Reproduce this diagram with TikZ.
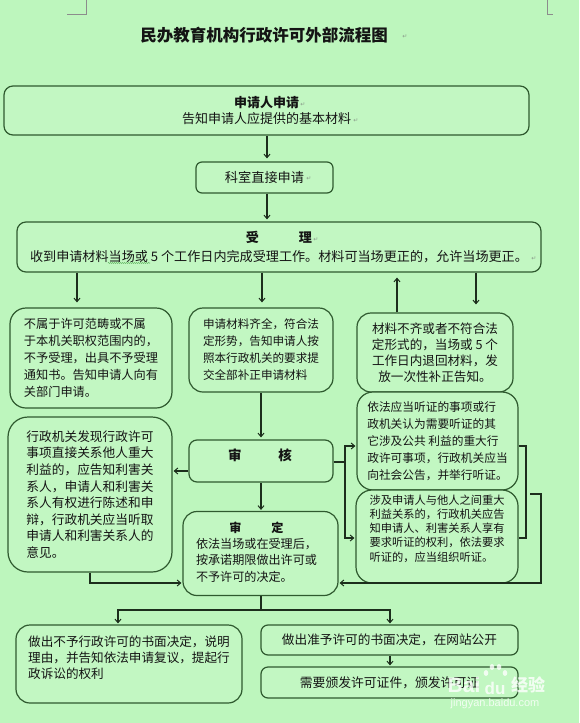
\documentclass[tikz,border=0pt]{standalone}
\usepackage{fontspec}
\setmainfont{Noto Sans CJK SC}
\newfontfamily\djv{DejaVu Sans}
\newfontfamily\lsans{Liberation Sans}
\usetikzlibrary{arrows.meta,decorations.pathmorphing}
\definecolor{bg}{HTML}{BDF6BD}
\definecolor{boxfill}{HTML}{C2F7C2}
\definecolor{boxline}{HTML}{2F5A2F}
\definecolor{lineclr}{HTML}{1C2E1C}
\definecolor{txt}{HTML}{141414}
\definecolor{pmark}{HTML}{8A9A8A}
\newcommand{\myfs}[2]{\fontsize{#1}{#2}\selectfont}
\tikzset{
  box/.style={draw=boxline, fill=boxfill, line width=1.2pt, inner sep=0pt, text=txt, align=center},
  tx/.style={inner sep=0pt, text=txt},
  arr/.style={draw=lineclr, line width=1.1pt, -{Straight Barb[length=3.5pt,width=6pt,line width=1pt]}, shorten >=1pt},
  ln/.style={draw=lineclr, line width=1.1pt},
  pm/.style={inner sep=0pt, text=pmark, font=\djv\myfs{6}{6}},
  wm/.style={inner sep=0pt, text=white, opacity=0.8},
  cmark/.style={draw=black!45, line width=0.6pt},
}
\begin{document}
\begin{tikzpicture}[x=1pt,y=-1pt]
\path[use as bounding box, fill=bg] (0,0) rectangle (579,723);
% page corner marks
\draw[cmark] (67,14) -- (86,14) -- (86,0);
\draw[cmark] (547,0) -- (547,14) -- (553,14);
% title
\node[tx, font=\bfseries\myfs{16.5}{20}] (title) at (264,35) {民办教育机构行政许可外部流程图};
% boxes
\node[box, rounded corners=9pt, minimum width=525pt, minimum height=49pt, font=\myfs{13}{16}] (apply) at (266.5,110.5) {{\bfseries 申请人申请}\\告知申请人应提供的基本材料};
\node[box, rounded corners=6pt, minimum width=137pt, minimum height=31pt, font=\myfs{13.2}{16}] (keshi) at (264.5,177.5) {科室直接申请};
\node[box, rounded corners=9pt, minimum width=524pt, minimum height=50pt, font=\myfs{13.1}{19}] (shouli) at (279,247) {{\bfseries 受\hspace{40pt}理}\\收到申请材料当场或 5 个工作日内完成受理工作。材料可当场更正的，允许当场更正。};
\node[box, rounded corners=16pt, minimum width=162pt, minimum height=100pt, align=left, font=\myfs{12.2}{17}] (bushu) at (91,358) {不属于许可范畴或不属\\于本机关职权范围内的，\\不予受理，出具不予受理\\通知书。告知申请人向有\\关部门申请。};
\node[box, rounded corners=14pt, minimum width=144pt, minimum height=84pt, align=left, font=\myfs{11.6}{17}] (qiquan) at (261,350) {申请材料齐全，符合法\\定形势，告知申请人按\\照本行政机关的要求提\\交全部补正申请材料};
\node[box, rounded corners=14pt, minimum width=156pt, minimum height=79pt, font=\myfs{12.6}{16}] (buqi) at (435,352.5) {材料不齐或者不符合法\\定形式的，当场或 5 个\\工作日内退回材料，发\\放一次性补正告知。};
\node[box, rounded corners=16pt, minimum width=161pt, minimum height=98pt, align=left, font=\myfs{11.7}{17}] (tingzheng) at (437.5,441) {依法应当听证的事项或行\\政机关认为需要听证的其\\它涉及公共 利益的重大行\\政许可事项，行政机关应当\\向社会公告，并举行听证。};
\node[box, rounded corners=16pt, minimum width=162pt, minimum height=93pt] (sheji) at (437,536.5) {};
\node[tx, align=left, font=\myfs{11.25}{14.2}] (shejitext) at (437,528.5) {涉及申请人与他人之间重大\\利益关系的，行政机关应告\\知申请人、利害关系人享有\\要求听证的权利，依法要求\\听证的，应当组织听证。};
\node[box, rounded corners=8pt, minimum width=144pt, minimum height=42pt] (shenhe) at (261,461) {};
\node[tx, font=\bfseries\myfs{13.5}{16}] (shenhetext) at (260,455) {审\hspace{37pt}核};
\node[box, rounded corners=20pt, minimum width=164pt, minimum height=155pt, align=left, font=\myfs{12.7}{16.6}] (left2) at (90,494.5) {行政机关发现行政许可\\事项直接关系他人重大\\利益的，应告知利害关\\系人，申请人和利害关\\系人有权进行陈述和申\\辩，行政机关应当听取\\申请人和利害关系人的\\意见。};
\node[box, rounded corners=14pt, minimum width=155pt, minimum height=84pt] (shending) at (260.5,553.5) {};
\node[tx, align=left, font=\myfs{12.1}{16.2}] (shendingtext) at (256.5,552) {\makebox[121pt]{\bfseries 审\hspace{30pt}定}\\依法当场或在受理后，\\按承诺期限做出许可或\\不予许可的决定。};
\node[box, rounded corners=14pt, minimum width=226pt, minimum height=78pt] (bad) at (129,664) {};
\node[tx, align=left, font=\myfs{12.6}{16}] (badtext) at (129,658) {做出不予行政许可的书面决定，说明\\理由，并告知依法申请复议，提起行\\政诉讼的权利};
\node[box, rounded corners=7pt, minimum width=257pt, minimum height=30pt, font=\myfs{12.65}{16}] (good1) at (389.5,640) {做出准予许可的书面决定，在网站公开};
\node[box, rounded corners=7pt, minimum width=257pt, minimum height=31pt, font=\myfs{12.8}{16}] (good2) at (389.5,682.5) {需要颁发许可证件，颁发许可证};
% paragraph marks
\node[pm] (pm1) at (405,37) {↵};
\node[pm] (pm2) at (303,105) {↵};
\node[pm] (pm3) at (356,121) {↵};
\node[pm] (pm4) at (309,179) {↵};
\node[pm] (pm5) at (316,240) {↵};
\node[pm] (pm6) at (534,259) {↵};
% grammar underline
\draw[draw=green!45!black, opacity=.6, line width=.5pt, decorate, decoration={snake,amplitude=.5pt,segment length=2pt}] (108,263) -- (150,263);
% connectors
\draw[arr, shorten >=3pt] (267,0 |- apply.south) -- (267,0 |- keshi.north);
\draw[arr, shorten >=2pt] (267,0 |- keshi.south) -- (267,0 |- shouli.north);
\draw[arr, shorten >=5pt] (77,0 |- shouli.south) -- (77,0 |- bushu.north);
\draw[arr, shorten >=5pt] (262,0 |- shouli.south) -- (262,0 |- qiquan.north);
\draw[arr, shorten >=5pt] (397,0 |- buqi.north) -- (397,0 |- shouli.south);
\draw[arr, shorten >=8pt] (476,0 |- shouli.south) -- (476,0 |- buqi.north);
\draw[arr, shorten >=2pt] (261,0 |- qiquan.south) -- (261,0 |- shenhe.north);
\draw[arr] (shenhe.west |- 0,471) -- (left2.east |- 0,471);
\draw[arr] (261,0 |- shenhe.south) -- (261,0 |- shending.north);
\draw[arr] (left2.south) |- (shending.west |- 0,583);
\coordinate (fork) at (345,462);
\draw[ln] (shenhe.east |- fork) -- (fork);
\draw[arr] (fork) |- (tingzheng.west |- 0,446);
\draw[arr] (fork) |- (sheji.west |- 0,538);
\draw[ln] (tingzheng.east |- 0,446) -| (526,538) -- (sheji.east |- 0,538);
\coordinate (ret) at (530,494);
\draw[arr] (ret) -| (541,583) -- (shending.east |- 0,583);
\coordinate (split) at (261,610);
\draw[ln] (261,0 |- shending.south) -- (split);
\draw[arr] (split) -| (118,0 |- bad.north);
\draw[arr] (split) -| (390,0 |- good1.north);
\draw[arr] (390,0 |- good1.south) -- (390,0 |- good2.north);
% watermark
\node[wm, font=\lsans\bfseries\myfs{21}{21}] (wmbai) at (464,685) {Bai};
\fill[white, opacity=.8] (486,673) ellipse (2.3pt and 3pt) (492,667) ellipse (2.3pt and 3pt) (499,667) ellipse (2.3pt and 3pt) (505,673) ellipse (2.3pt and 3pt);
\node[wm, font=\lsans\bfseries\myfs{17}{17}] (wmdu) at (495,688) {du};
\node[wm, font=\bfseries\myfs{17}{17}] (wmjy) at (528,685) {经验};
\node[wm, font=\lsans\myfs{11}{11}] (wmurl) at (495,704) {jingyan.baidu.com};
\end{tikzpicture}
\end{document}
